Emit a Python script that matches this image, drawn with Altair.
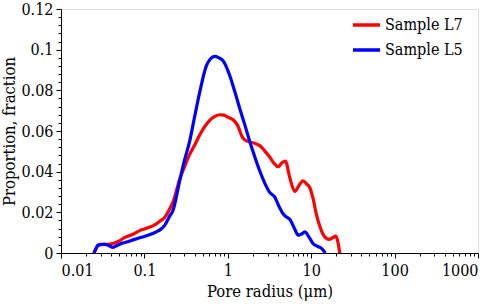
import altair as alt
import pandas as pd

# Sample L7 (red)
l7_r = [0.0248, 0.029, 0.035, 0.042, 0.05, 0.058, 0.067, 0.076, 0.088, 0.1, 0.116, 0.133,
        0.152, 0.175, 0.2, 0.22, 0.265, 0.3, 0.349, 0.4, 0.46, 0.53, 0.607, 0.7, 0.8, 0.9,
        1.0, 1.157, 1.3, 1.52, 1.7, 1.83, 2.1, 2.42, 2.8, 3.18, 3.6, 4.0, 4.5, 4.9, 5.54,
        6.34, 7.2, 7.98, 8.8, 9.6, 10.5, 11.5, 12.6, 13.7, 15.2, 16.5, 18.0, 19.8, 21.0, 22.0]
l7_p = [0.0, 0.0042, 0.0043, 0.0047, 0.006, 0.0076, 0.0086, 0.0096, 0.011, 0.0118, 0.0128, 0.0138,
        0.0155, 0.0175, 0.0215, 0.025, 0.0363, 0.042, 0.0485, 0.053, 0.058, 0.0622, 0.0652, 0.0672, 0.068, 0.0678,
        0.0668, 0.0655, 0.063, 0.0565, 0.055, 0.0546, 0.054, 0.0528, 0.05, 0.0472, 0.044, 0.0425, 0.0445, 0.0452, 0.037,
        0.0303, 0.0335, 0.0355, 0.034, 0.0322, 0.027, 0.0193, 0.0135, 0.0096, 0.0072, 0.0067, 0.0075, 0.0083, 0.005, 0.0]

# Sample L5 (blue)
l5_r = [0.0248, 0.0265, 0.0278, 0.0334, 0.038, 0.042, 0.047, 0.053, 0.063, 0.076, 0.09, 0.11,
        0.139, 0.155, 0.175, 0.2, 0.22, 0.265, 0.3, 0.349, 0.4, 0.46, 0.553, 0.62, 0.697, 0.78,
        0.877, 1.055, 1.2, 1.39, 1.6, 1.83, 2.1, 2.42, 2.8, 3.18, 3.66, 4.1, 4.6, 5.0, 5.54,
        6.3, 7.0, 7.6, 8.4, 9.3, 10.5, 12.0, 13.2, 14.0, 14.8]
l5_p = [0.0, 0.0025, 0.0039, 0.0042, 0.0035, 0.0028, 0.0037, 0.0047, 0.0055, 0.0067, 0.0076, 0.0087,
        0.0104, 0.0115, 0.0136, 0.018, 0.0209, 0.0355, 0.045, 0.055, 0.067, 0.079, 0.092, 0.0955, 0.0967, 0.096,
        0.0946, 0.0873, 0.08, 0.0711, 0.063, 0.055, 0.0475, 0.0403, 0.034, 0.0298, 0.0275, 0.023, 0.0193, 0.0178, 0.0166,
        0.012, 0.0088, 0.0092, 0.0104, 0.0082, 0.0047, 0.0032, 0.0024, 0.0012, 0.0]

series_names = ["Sample L7", "Sample L5"]
series_colors = ["#ff0000", "#0000ff"]

rows = []
for i, (r, p) in enumerate(zip(l7_r, l7_p)):
    rows.append({"series": series_names[0], "r": r, "p": p, "o": i})
for i, (r, p) in enumerate(zip(l5_r, l5_p)):
    rows.append({"series": series_names[1], "r": r, "p": p, "o": i})
df = pd.DataFrame(rows)

x_vals = []
for d in [0.01, 0.1, 1, 10, 100]:
    for k in range(1, 10):
        x_vals.append(round(d * k, 6))
x_vals.append(1000)

y_vals = [round(i * 0.004, 3) for i in range(31)]

font = "DejaVu Serif Condensed, DejaVu Serif"

x_axis = alt.Axis(
    values=x_vals,
    format="~g",
    labelExpr="indexof([0.01,0.1,1,10,100,1000], datum.value) >= 0 ? datum.label : ''",
    tickSize={"condition": {"test": "indexof([0.01,0.1,1,10,100,1000], datum.value) >= 0", "value": 5}, "value": 3},
    grid=False,
    labelOverlap=False,
    labelFont=font, labelFontSize=16, labelColor="black", labelPadding=4,
    titleFont=font, titleFontSize=16.5, titleFontWeight="normal", titleColor="black", titlePadding=5,
    domainColor="black", tickColor="black", domainWidth=1, tickWidth=1,
    title="Pore radius (μm)",
)

y_axis = alt.Axis(
    values=y_vals,
    labelExpr="abs(datum.value*50 - round(datum.value*50)) < 1e-6 ? format(datum.value, '~g') : ''",
    tickSize={"condition": {"test": "abs(datum.value*50 - round(datum.value*50)) < 1e-6", "value": 5}, "value": 3},
    grid=False,
    labelOverlap=False,
    labelFont=font, labelFontSize=16, labelColor="black", labelPadding=3,
    titleFont=font, titleFontSize=16.5, titleFontWeight="normal", titleColor="black", titlePadding=3,
    domainColor="black", tickColor="black", domainWidth=1, tickWidth=1,
    title="Proportion, fraction",
)

chart = alt.Chart(df).mark_line(interpolate="monotone", strokeWidth=3.2).encode(
    x=alt.X("r:Q", scale=alt.Scale(type="log", domain=[0.01, 1000], nice=False), axis=x_axis),
    y=alt.Y("p:Q", scale=alt.Scale(domain=[0, 0.12], nice=False, zero=True), axis=y_axis),
    color=alt.Color(
        "series:N",
        scale=alt.Scale(domain=series_names, range=series_colors),
        legend=alt.Legend(
            title=None, orient="none", legendX=290, legendY=8,
            labelFont=font, labelFontSize=16, labelColor="black",
            symbolType="stroke", symbolSize=729, symbolStrokeWidth=3.5,
            labelOffset=3, rowPadding=9, clipHeight=16,
        ),
    ),
    order="o:Q",
    detail="series:N",
).properties(
    width=417, height=244,
    autosize=alt.AutoSizeParams(type="none"),
    padding={"left": 61, "top": 9, "right": 20, "bottom": 55},
).configure_view(stroke="black", strokeWidth=1).configure(background="white")

chart.save("out.html", embed_options={"renderer": "svg", "actions": False})
